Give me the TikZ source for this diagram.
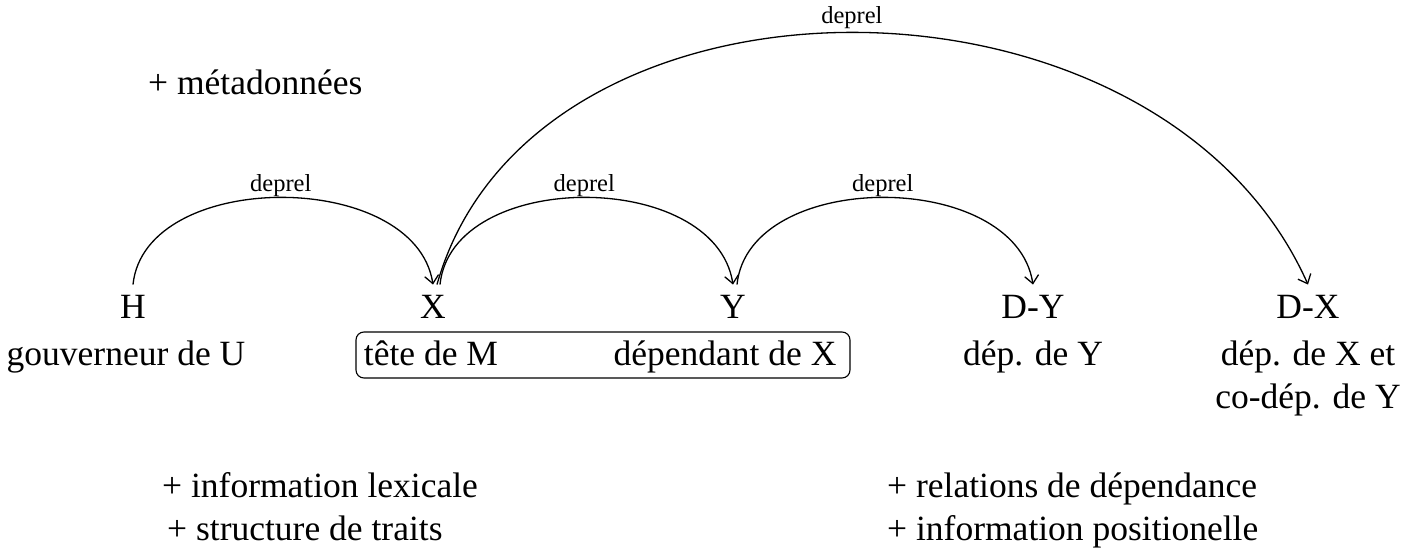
\documentclass[tikz,border=0pt]{standalone}
\usepackage{fontspec}
\setmainfont{Liberation Serif}
\usetikzlibrary{arrows.meta}
\tikzset{
  word/.style={inner sep=0pt, anchor=base, font=\fontsize{35.5}{42}\selectfont},
  note/.style={inner sep=0pt, anchor=base west, font=\fontsize{35.5}{42}\selectfont},
  arc/.style={line width=1.3pt, -{Straight Barb[length=8pt,width=14pt,line width=1.3pt]}},
  rel/.style={inner sep=0pt, anchor=base, font=\fontsize{24.5}{28}\selectfont},
}
\begin{document}
\begin{tikzpicture}[x=1pt,y=-1pt]
\useasboundingbox (0,0) rectangle (1419,551);

% words of the sentence
\node[word] (H)  at (133,318) {H};
\node[word] (X)  at (433,318) {X};
\node[word] (Y)  at (733,318) {Y};
\node[word] (DY) at (1033,318) {D-Y};
\node[word] (DX) at (1308,318) {D-X};

% roles
\node[word] (gouv) at (126,365) {gouverneur de U};
\node[word] (tete) at (431,365) {tête de M};
\node[word] (dep)  at (725,365) {dépendant de X};
\node[word] (depY) at (1033,365) {dép. de Y};
\node[word] (depX) at (1308,365) {dép. de X et};
\node[word] (codep) at (1308,408) {co-dép. de Y};

% frame around the target pair
\draw[line width=1.1pt, rounded corners=8pt] (356,332) rectangle (850,378);

% additional information
\node[note] (meta) at (148,95) {+ métadonnées};
\node[note] (lex)  at (162,497) {+ information lexicale};
\node[note] (str)  at (167,540) {+ structure de traits};
\node[note] (rel)  at (887,497) {+ relations de dépendance};
\node[note] (pos)  at (887,540) {+ information positionelle};

% arc end points
\coordinate (h0)  at ([yshift=10pt]H.north);
\coordinate (x0)  at ([yshift=10pt]X.north);
\coordinate (x1)  at ([xshift=7pt,yshift=10pt]X.north);
\coordinate (x2)  at ([xshift=4pt,yshift=10pt]X.north);
\coordinate (y0)  at ([yshift=10pt]Y.north);
\coordinate (y1)  at ([xshift=4pt,yshift=10pt]Y.north);
\coordinate (dy0) at ([yshift=10pt]DY.north);
\coordinate (dx0) at ([yshift=10pt]DX.north);

% dependency arcs
\draw[arc] (h0) .. controls ([xshift=12pt,yshift=116pt]h0) and ([xshift=-18pt,yshift=116pt]x0) .. (x0)
  node[rel, pos=.5, yshift=6pt] {deprel};
\draw[arc] (x1) .. controls ([xshift=12pt,yshift=116pt]x1) and ([xshift=-18pt,yshift=116pt]y0) .. (y0)
  node[rel, pos=.5, yshift=6pt] {deprel};
\draw[arc] (y1) .. controls ([xshift=12pt,yshift=116pt]y1) and ([xshift=-18pt,yshift=116pt]dy0) .. (dy0)
  node[rel, pos=.5, yshift=6pt] {deprel};
\draw[arc] (x2) .. controls ([xshift=95pt,yshift=336pt]x2) and ([xshift=-150pt,yshift=336pt]dx0) .. (dx0)
  node[rel, pos=.5, yshift=9pt] {deprel};
\end{tikzpicture}
\end{document}
